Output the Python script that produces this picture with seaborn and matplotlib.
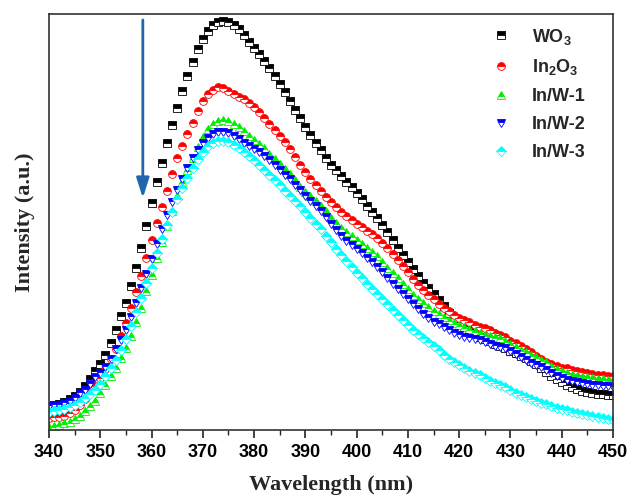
import numpy as np
import pandas as pd
import matplotlib
matplotlib.use("Agg")
import matplotlib.pyplot as plt
import seaborn as sns

# ---------------- data ----------------
wavelength = list(range(340, 451))

wo3 = [24, 25, 26, 28, 31, 34, 38, 44, 51, 59,
       66, 75, 87, 100, 114, 127, 144, 162, 182, 204,
       227, 248, 267, 287, 305, 322, 339, 354, 368, 381,
       391, 399, 405, 408, 409, 408, 405, 401, 395, 388,
       382, 376, 369, 362, 354, 346, 338, 329, 320, 312,
       303, 295, 287, 280, 272, 265, 260, 254, 248, 243,
       237, 231, 224, 218, 212, 205, 198, 190, 182, 175,
       168, 161, 154, 147, 142, 136, 130, 124, 117, 112,
       108, 104, 100, 96, 93, 91, 89, 86, 84, 82,
       79, 77, 74, 72, 69, 66, 62, 58, 54, 51,
       48, 45, 43, 41, 39, 38, 37, 36, 36, 35, 35]

in2o3 = [12, 13, 13, 14, 17, 20, 25, 31, 37, 44,
         52, 61, 71, 81, 94, 107, 122, 138, 154, 172,
         190, 207, 223, 239, 256, 272, 284, 296, 307, 319,
         329, 336, 340, 343, 342, 339, 336, 333, 331, 327,
         323, 318, 312, 306, 300, 294, 288, 281, 273, 265,
         258, 251, 245, 239, 233, 228, 223, 218, 214, 210,
         206, 203, 199, 196, 192, 187, 182, 176, 170, 164,
         158, 151, 145, 140, 135, 131, 126, 122, 119, 115,
         112, 110, 108, 105, 103, 102, 100, 97, 95, 93,
         89, 87, 84, 81, 78, 74, 71, 68, 66, 64,
         62, 62, 60, 59, 58, 57, 56, 55, 55, 54, 54]

inw1 = [3, 4, 5, 7, 8, 11, 14, 19, 24, 29,
        37, 45, 54, 62, 72, 82, 94, 108, 122, 139,
        155, 172, 188, 204, 219, 234, 248, 260, 272, 283,
        293, 301, 306, 309, 310, 309, 306, 303, 299, 294,
        290, 286, 282, 276, 271, 266, 261, 256, 250, 243,
        238, 234, 229, 224, 219, 212, 207, 202, 198, 194,
        190, 186, 182, 178, 174, 168, 162, 157, 152, 146,
        141, 135, 131, 127, 123, 119, 116, 113, 110, 107,
        105, 103, 101, 99, 97, 95, 94, 93, 92, 89,
        86, 83, 80, 78, 75, 73, 70, 68, 64, 61,
        59, 57, 55, 54, 53, 53, 52, 51, 51, 50, 50]

inw2 = [24, 25, 25, 27, 29, 32, 37, 40, 46, 53,
        57, 63, 71, 81, 90, 100, 113, 127, 142, 156,
        171, 186, 201, 215, 228, 240, 251, 262, 272, 280,
        287, 292, 296, 298, 298, 297, 294, 291, 287, 284,
        281, 278, 274, 270, 265, 260, 255, 251, 245, 240,
        234, 229, 224, 219, 213, 206, 200, 194, 189, 185,
        181, 177, 172, 168, 163, 158, 152, 146, 141, 136,
        131, 126, 121, 116, 112, 108, 106, 103, 100, 97,
        95, 93, 92, 91, 90, 88, 86, 84, 83, 82,
        79, 76, 73, 70, 67, 65, 63, 60, 57, 54,
        52, 50, 49, 48, 47, 46, 45, 45, 44, 44, 43]

inw3 = [18, 19, 20, 21, 23, 25, 28, 32, 36, 40,
        46, 54, 62, 70, 80, 91, 104, 118, 132, 147,
        162, 177, 191, 205, 218, 231, 242, 252, 262, 271,
        278, 284, 287, 289, 289, 288, 285, 282, 278, 274,
        270, 265, 260, 255, 250, 245, 239, 234, 229, 224,
        218, 212, 206, 201, 194, 188, 181, 175, 169, 163,
        157, 152, 146, 141, 136, 131, 126, 120, 115, 110,
        105, 100, 96, 92, 88, 84, 80, 75, 71, 68,
        65, 62, 59, 57, 55, 52, 49, 47, 45, 43,
        40, 37, 35, 33, 31, 29, 27, 26, 24, 22,
        21, 20, 18, 17, 16, 15, 14, 13, 12, 11, 10]

series_names = ["WO$_\\mathbf{3}$", "In$_\\mathbf{2}$O$_\\mathbf{3}$", "In/W-1", "In/W-2", "In/W-3"]
series_values = [wo3, in2o3, inw1, inw2, inw3]
colors = ["#000000", "#FF0000", "#00EE00", "#0000FF", "#00FFFF"]
markers = ["s", "o", "^", "v", "D"]

# ---------------- style ----------------
sns.set_theme(style="ticks")
plt.rcParams["font.family"] = ["Liberation Sans", "DejaVu Sans"]
plt.rcParams["mathtext.fontset"] = "custom"
plt.rcParams["mathtext.rm"] = "Liberation Sans:bold"
plt.rcParams["mathtext.bf"] = "Liberation Sans:bold"

fig = plt.figure(figsize=(6.30, 4.97), dpi=100)
ax = fig.add_axes([49 / 630, 1 - 430 / 497, (613 - 49) / 630, (430 - 14) / 497])

for name, vals, c, m in zip(series_names, series_values, colors, markers):
    df = pd.DataFrame({"wl": wavelength, "val": vals})
    ms = 6.4 if m in ("^", "v") else 5.6
    if m == "D":
        ms = 5.4
    sns.lineplot(data=df, x="wl", y="val", ax=ax, linestyle="", marker=m,
                 markersize=ms, color=c, fillstyle="top",
                 markerfacecolor=c, markerfacecoloralt="white",
                 markeredgecolor=c, markeredgewidth=0.6,
                 label=name, legend=False)

ax.set_xlim(340, 450)
ax.set_ylim(0, 416)
ax.set_xticks(range(340, 451, 10))
ax.set_xticks(range(345, 451, 10), minor=True)
ax.set_yticks([])
ax.tick_params(axis="x", which="major", direction="out", length=6, width=1.2,
               labelsize=13, pad=4, colors="#222222")
ax.tick_params(axis="x", which="minor", direction="out", length=3.5, width=1.0,
               colors="#222222")
for lab in ax.get_xticklabels():
    lab.set_fontweight("bold")
    lab.set_color("black")
for sp in ax.spines.values():
    sp.set_linewidth(1.2)
    sp.set_color("#333333")

ax.set_xlabel("Wavelength (nm)", fontsize=16, fontweight="bold",
              family=["Liberation Serif", "DejaVu Serif"], labelpad=10)
ax.set_ylabel("Intensity (a.u.)", fontsize=16, fontweight="bold",
              family=["Liberation Serif", "DejaVu Serif"], labelpad=10)

# arrow
ax.annotate("", xy=(358.3, 232), xytext=(358.3, 410),
            arrowprops=dict(arrowstyle="-|>,head_length=1.0,head_width=0.32",
                            color="#2166AC", lw=2.0, shrinkA=0, shrinkB=0))

leg = ax.legend(loc="upper left", bbox_to_anchor=(0.77, 0.987), frameon=False,
                fontsize=13, handlelength=1.2, handletextpad=1.1,
                labelspacing=0.6, borderaxespad=0)
for t in leg.get_texts():
    t.set_fontweight("bold")

fig.savefig("out.png", dpi=100)
